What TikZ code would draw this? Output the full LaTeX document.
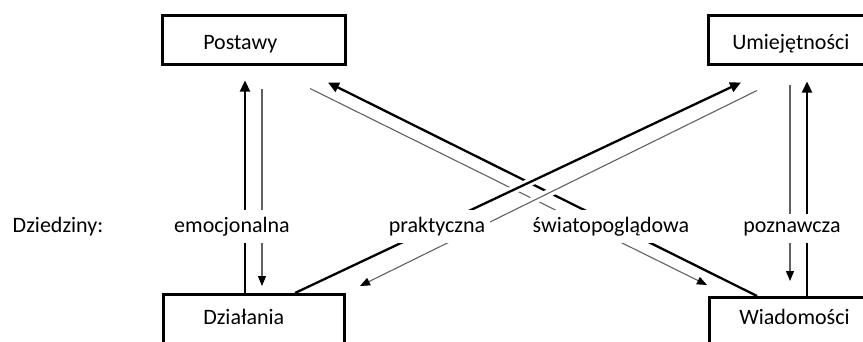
\documentclass[tikz,border=0pt]{standalone}
\usepackage{fontspec}
\setmainfont{Carlito}
\usetikzlibrary{arrows.meta,calc,backgrounds}
\begin{document}
\begin{tikzpicture}[x=1pt,y=-1pt,
  every node/.style={font=\fontsize{22}{26}\selectfont},
  box/.style={draw, line width=2.5pt, fill=white, anchor=north west, minimum height=49pt, align=left, inner ysep=0pt, text depth=0pt},
  lab/.style={fill=white, inner xsep=5pt, inner ysep=7pt, anchor=base},
  thickarr/.style={line width=2.3pt, -{Triangle[length=11pt,width=10pt]}},
  thinarr/.style={line width=1.1pt, draw=black!62, -{Triangle[length=10pt,width=8pt,color=black]}},
  halo/.style={preaction={draw=white, line width=8pt, -}}
]
\useasboundingbox (0,0) rectangle (863,341);
\clip (0,0) rectangle (863,341);

% boxes
\node[box, minimum width=183pt, inner xsep=41pt, text width=101pt, text height=20pt] (P) at (161,14) {Postawy};
\node[box, minimum width=171pt, inner xsep=24pt, text width=123pt, text height=20pt] (U) at (707,14) {Umiejętności};
\node[box, minimum width=181pt, inner xsep=40pt, text width=101pt, text height=12pt] (D) at (162,293) {Działania};
\node[box, minimum width=176pt, inner xsep=30pt, text width=116pt, text height=5pt] (W) at (708,296) {Wiadomości};

% labels
\node[lab] (dz) at (58,232) {Dziedziny:};
\node[lab] (em) at (232,232) {emocjonalna};
\node[lab] (pr) at (437,232) {praktyczna};
\node[lab] (sw) at (611,232) {światopoglądowa};
\node[lab] (po) at (792,232) {poznawcza};

\begin{pgfonlayer}{background}
% emocjonalna
\draw[thickarr] ($(D.north west)+(83,0)$) -- ($(P.south west)+(84,15)$);
\draw[thinarr] ($(P.south west)+(101,23)$) -- ($(D.north west)+(100,-7)$);
% poznawcza
\draw[thinarr] ($(U.south west)+(83,19)$) -- ($(W.north west)+(82,-15)$);
\draw[thickarr] ($(W.north west)+(99,0)$) -- ($(U.south west)+(100,16)$);
% swiatopogladowa (under)
\draw[thickarr] ($(W.north west)+(49,0)$) -- ($(P.south west)+(167,17)$);
\draw[thinarr] ($(P.south west)+(149,23)$) -- ($(W.north west)+(-1,-11)$);
% praktyczna (over)
\draw[thinarr, halo] ($(U.south west)+(50,25)$) -- ($(D.north west)+(198,-7)$);
\draw[thickarr, halo] ($(D.north west)+(133,0)$) -- ($(U.south west)+(34,17)$);
\end{pgfonlayer}
\end{tikzpicture}
\end{document}
